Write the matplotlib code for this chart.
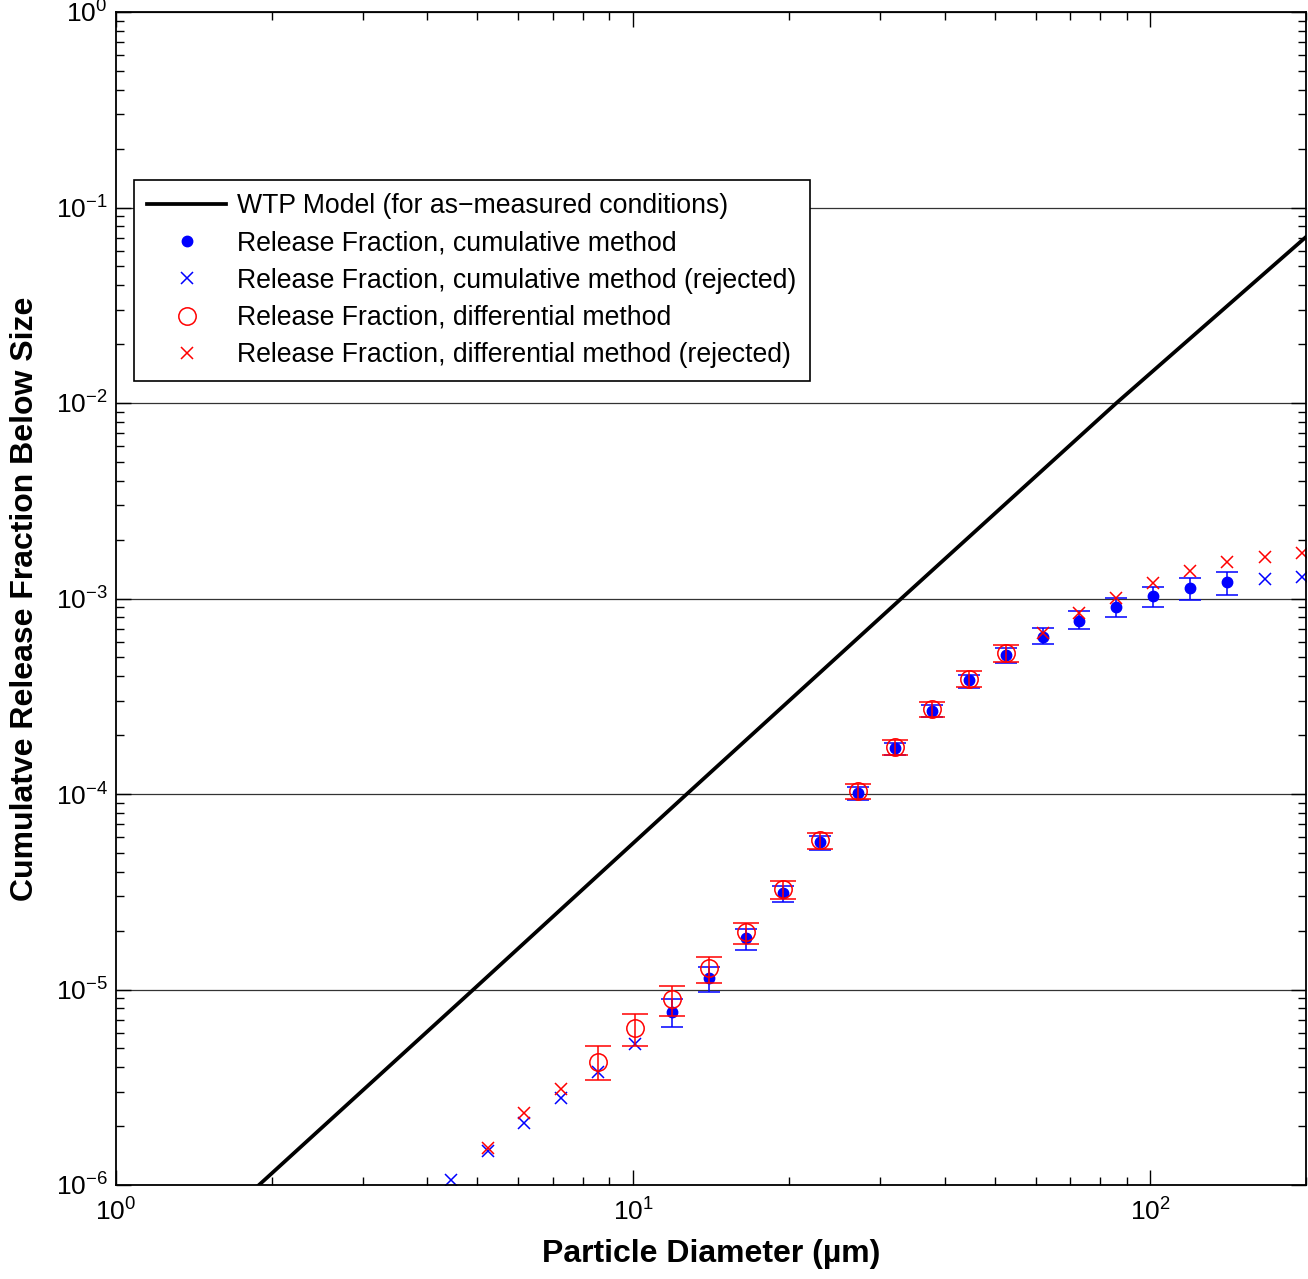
#! /usr/bin/env python3
# -*- coding:UTF-8 -*-
import matplotlib
matplotlib.use("Agg")
import matplotlib.pyplot as plt
from matplotlib.ticker import LogLocator, NullFormatter

plt.rcParams["font.family"] = ["Liberation Sans", "DejaVu Sans"]
plt.rcParams["mathtext.fontset"] = "custom"
plt.rcParams["mathtext.rm"] = "Liberation Sans"
plt.rcParams["mathtext.it"] = "Liberation Sans:italic"
plt.rcParams["mathtext.bf"] = "Liberation Sans:bold"

# WTP model line (points read where it crosses the grid lines)
model_x = [1.89, 4.91, 12.7, 33.0, 86.0, 200.0]
model_y = [1e-6, 1e-5, 1e-4, 1e-3, 1e-2, 0.0707]

# cumulative method (accepted) with error bars
cum_x = [11.89, 14.02, 16.53, 19.48, 22.96, 27.2, 32.05, 37.78, 44.53, 52.5,
         61.9, 72.9, 86.0, 101.3, 119.5, 140.8]
cum_y = [7.67e-6, 1.15e-5, 1.83e-5, 3.12e-5, 5.68e-5, 1.01e-4, 1.72e-4, 2.66e-4,
         3.83e-4, 5.14e-4, 6.36e-4, 7.67e-4, 9.05e-4, 1.03e-3, 1.13e-3, 1.21e-3]
cum_hi = [8.93e-6, 1.30e-5, 2.04e-5, 3.38e-5, 6.09e-5, 1.09e-4, 1.82e-4, 2.85e-4,
          4.06e-4, 5.58e-4, 7.06e-4, 8.63e-4, 1.007e-3, 1.15e-3, 1.27e-3, 1.37e-3]
cum_lo = [6.43e-6, 9.7e-6, 1.59e-5, 2.80e-5, 5.17e-5, 9.31e-5, 1.58e-4, 2.48e-4,
          3.48e-4, 4.68e-4, 5.85e-4, 6.98e-4, 8.04e-4, 9.05e-4, 9.83e-4, 1.04e-3]

# cumulative method (rejected)
cum_rej_x = [4.45, 5.23, 6.16, 7.26, 8.56, 10.09, 166.7, 196.6]
cum_rej_y = [1.06e-6, 1.49e-6, 2.07e-6, 2.79e-6, 3.78e-6, 5.26e-6, 1.26e-3, 1.29e-3]

# differential method (accepted) with error bars
dif_x = [8.56, 10.09, 11.89, 14.02, 16.53, 19.48, 22.96, 27.2, 32.05, 37.78,
         44.53, 52.5]
dif_y = [4.26e-6, 6.35e-6, 8.93e-6, 1.29e-5, 1.97e-5, 3.27e-5, 5.82e-5, 1.035e-4,
         1.74e-4, 2.72e-4, 3.88e-4, 5.26e-4]
dif_hi = [5.14e-6, 7.5e-6, 1.04e-5, 1.47e-5, 2.19e-5, 3.59e-5, 6.32e-5, 1.12e-4,
          1.89e-4, 2.96e-4, 4.26e-4, 5.78e-4]
dif_lo = [3.44e-6, 5.14e-6, 7.32e-6, 1.08e-5, 1.71e-5, 2.90e-5, 5.24e-5, 9.42e-5,
          1.58e-4, 2.48e-4, 3.52e-4, 4.73e-4]

# differential method (rejected)
dif_rej_x = [5.23, 6.16, 7.26, 61.9, 72.9, 86.0, 101.3, 119.5, 140.8, 166.7, 196.6]
dif_rej_y = [1.55e-6, 2.34e-6, 3.10e-6, 6.67e-4, 8.43e-4, 1.007e-3, 1.20e-3,
             1.38e-3, 1.54e-3, 1.63e-3, 1.71e-3]

labels = ["WTP Model (for as\u2212measured conditions)",
          "Release Fraction, cumulative method",
          "Release Fraction, cumulative method (rejected)",
          "Release Fraction, differential method",
          "Release Fraction, differential method (rejected)"]

fig = plt.figure(figsize=(13.08, 12.79), dpi=100)
ax = fig.add_axes([116/1308, 94/1279, 1190/1308, 1173/1279])
ax.set_xscale("log")
ax.set_yscale("log")

h_model, = ax.plot(model_x, model_y, "k-", lw=2.7)

cum_err = [[y - l for y, l in zip(cum_y, cum_lo)], [h - y for y, h in zip(cum_y, cum_hi)]]
dif_err = [[y - l for y, l in zip(dif_y, dif_lo)], [h - y for y, h in zip(dif_y, dif_hi)]]

ax.errorbar(cum_x, cum_y, yerr=cum_err, fmt="none", ecolor="blue", elinewidth=1.1,
            capsize=7.9, capthick=1.1)
h_cum, = ax.plot(cum_x, cum_y, "o", color="blue", ms=7.5, ls="none")
h_cum_rej, = ax.plot(cum_rej_x, cum_rej_y, "x", color="blue", ms=9, mew=1.1, ls="none")

ax.errorbar(dif_x, dif_y, yerr=dif_err, fmt="none", ecolor="red", elinewidth=1.1,
            capsize=9.7, capthick=1.1)
h_dif, = ax.plot(dif_x, dif_y, "o", mfc="none", mec="red", ms=12.5, mew=1.1, ls="none")
h_dif_rej, = ax.plot(dif_rej_x, dif_rej_y, "x", color="red", ms=9, mew=1.1, ls="none")

ax.set_xlim(1, 200)
ax.set_ylim(1e-6, 1)

ax.yaxis.set_major_locator(LogLocator(base=10, numticks=10))
ax.yaxis.set_minor_locator(LogLocator(base=10, subs=range(2, 10), numticks=100))
ax.yaxis.set_minor_formatter(NullFormatter())
ax.xaxis.set_minor_formatter(NullFormatter())

ax.grid(True, which="major", axis="y", color="0.2", lw=0.9, ls="-")
ax.set_axisbelow(True)

ax.tick_params(which="both", direction="in", top=True, right=True, width=1.0)
ax.tick_params(which="major", length=11, labelsize=19)
ax.tick_params(which="minor", length=6)
ax.tick_params(axis="x", which="major", pad=10)
ax.tick_params(axis="y", which="major", pad=6)
for s in ax.spines.values():
    s.set_linewidth(1.3)

ax.set_xlabel("Particle Diameter (\u00b5m)", fontsize=23, fontweight="bold", labelpad=9)
ax.set_ylabel("Cumulatve Release Fraction Below Size", fontsize=23, fontweight="bold", labelpad=11)

leg = ax.legend([h_model, h_cum, h_cum_rej, h_dif, h_dif_rej], labels,
                loc="upper left", bbox_to_anchor=(18/1190, 1005/1173), borderaxespad=0,
                fontsize=19.2, handlelength=2.95, handletextpad=0.42, labelspacing=0.42,
                borderpad=0.5, fancybox=False, framealpha=1, edgecolor="black")
leg.get_frame().set_linewidth(1.2)

plt.savefig("out.png", dpi=100)
